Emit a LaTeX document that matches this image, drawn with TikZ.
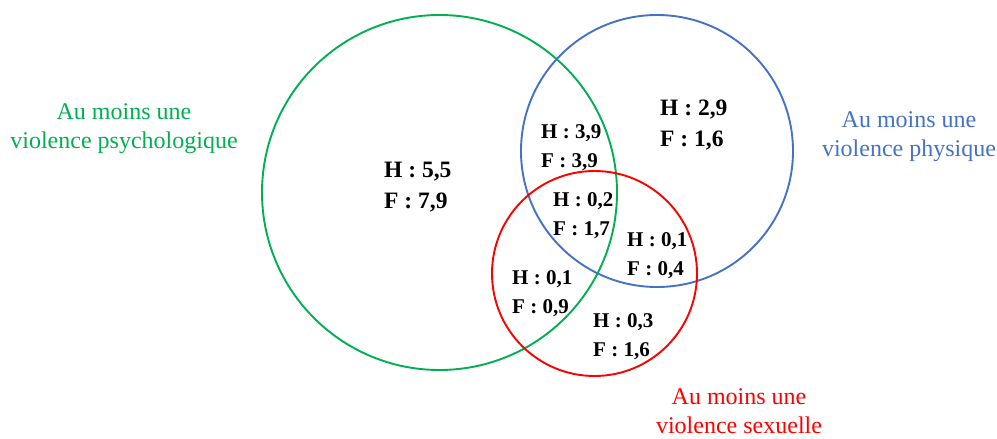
\documentclass[tikz,border=0pt]{standalone}
\usepackage{fontspec}
\setmainfont{Liberation Serif}
\definecolor{vgreen}{RGB}{0,176,80}
\definecolor{vblue}{RGB}{68,114,196}
\definecolor{vred}{RGB}{255,0,0}

\begin{document}
\begin{tikzpicture}[x=1pt,y=-1pt,
            set/.style={draw,circle,line width=1.9pt,inner sep=0pt},
            bignum/.style={anchor=west,inner sep=0pt,align=left,font=\bfseries\fontsize{23.5}{30.5}\selectfont},
            smallnum/.style={anchor=west,inner sep=0pt,align=left,font=\bfseries\fontsize{21}{29}\selectfont},
            setlabel/.style={align=center,inner sep=0pt,font=\fontsize{24}{29}\selectfont}]
            \useasboundingbox (0,0) rectangle (997,439);
            % the three sets
            \node[set,vgreen,minimum size=355pt](psy) at (439.5,192.5) {};
            \node[set,vblue,minimum size=272pt](phy) at (657,151) {};
            \node[set,vred,minimum size=205pt](sex) at (594.5,273.5) {};

            \node[setlabel,vgreen](lpsy) at (124,129) {Au moins une\\violence psychologique};
            \node[setlabel,vblue](lphy) at (909,137) {Au moins une\\violence physique};
            \node[setlabel,vred](lsex) at (739,411) {Au moins une\\violence sexuelle};

            % values
            \node[bignum](p) at (384,187) {H : 5,5\\F : 7,9};
            \node[bignum](ph) at (660,125) {H : 2,9\\F : 1,6};
            \node[smallnum](pph) at (541,148) {H : 3,9\\F : 3,9};
            \node[smallnum](all) at (553,216) {H : 0,2\\F : 1,7};
            \node[smallnum](phs) at (627,256) {H : 0,1\\F : 0,4};
            \node[smallnum](ps) at (512,294) {H : 0,1\\F : 0,9};
            \node[smallnum](s) at (593,337) {H : 0,3\\F : 1,6};
        \end{tikzpicture}
\end{document}
